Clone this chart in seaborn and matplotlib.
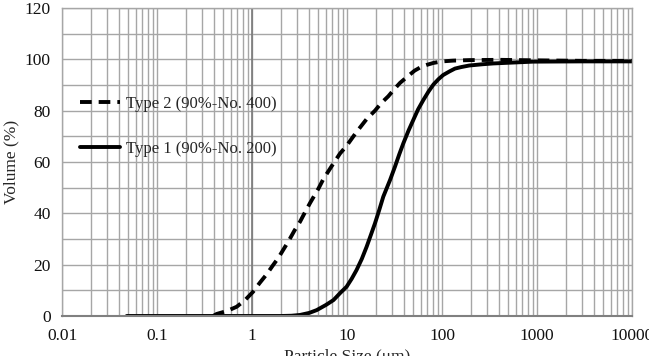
import numpy as np
import pandas as pd
import matplotlib
matplotlib.use("Agg")
import matplotlib.pyplot as plt
import seaborn as sns
from matplotlib.ticker import LogLocator, FixedLocator, NullFormatter

# Data
type2_size = [0.39, 0.425, 0.55, 0.69, 0.85, 1.03, 1.2, 1.43, 1.65, 1.89, 2.15, 2.41,
              2.8, 3.2, 3.6, 4.08, 5.0, 5.63, 6.9, 8.44, 9.9, 12.6, 16, 19.7, 23,
              27.2, 31, 36.1, 43, 51.5, 60, 70, 81.3, 100, 131, 194, 408, 1000,
              3000, 10000]
type2_vol = [0.0, 0.8, 2.0, 3.6, 6.3, 9.5, 12.8, 16.3, 19.6, 22.6, 26.0, 29.0,
             33.3, 36.7, 40.3, 44.0, 49.6, 53.3, 58.4, 63.3, 66.3, 71.7, 76.6, 80.0, 83.0,
             85.6, 88.1, 90.8, 93.2, 95.6, 97.0, 97.9, 98.6, 99.2, 99.5, 99.7, 99.8, 99.6,
             99.4, 99.4]

type1_size = [0.048, 0.5, 1.0, 2.0, 2.6, 3.2, 4.0, 4.8, 6.0, 7.2, 8.5, 9.9, 11.2,
              12.6, 14.3, 16.1, 17.8, 19.7, 21.8, 24.1, 28.4, 32, 35.5, 39.2, 44.5,
              49.9, 56, 63.5, 72, 81.3, 92, 103, 120, 137, 160, 194, 270, 347, 600,
              912, 3000, 10000]
type1_vol = [0.0, 0.0, 0.0, 0.0, 0.1, 0.4, 1.2, 2.3, 4.3, 6.2, 9.0, 11.4, 14.5,
             17.9, 22.2, 27.0, 31.5, 36.1, 41.2, 46.5, 53.0, 58.2, 63.0, 67.3, 72.3,
             76.4, 80.5, 84.1, 87.4, 90.2, 92.3, 93.9, 95.3, 96.4, 97.0, 97.6, 98.1, 98.4, 98.8,
             99.1, 99.2, 99.2]

label2 = "Type 2 (90%-No. 400)"
label1 = "Type 1 (90%-No. 200)"
x_ticks = [0.01, 0.1, 1, 10, 100, 1000, 10000]
x_ticklabels = ["0.01", "0.1", "1", "10", "100", "1000", "10000"]
y_ticks = [0, 20, 40, 60, 80, 100, 120]

sns.set_theme(style="white")
plt.rcParams["font.family"] = ["Liberation Serif", "DejaVu Serif"]

fig = plt.figure(figsize=(6.49, 3.56), dpi=100)
ax = fig.add_axes([62/649, 1 - 316/356, 570/649, 308/356])

df2 = pd.DataFrame({"size": type2_size, "vol": type2_vol})
df1 = pd.DataFrame({"size": type1_size, "vol": type1_vol})

sns.lineplot(data=df2, x="size", y="vol", ax=ax, color="black", lw=2.8,
             linestyle=(0, (3.0, 1.8)), label=label2, solid_joinstyle="round",
             dash_capstyle="butt")
sns.lineplot(data=df1, x="size", y="vol", ax=ax, color="black", lw=2.8,
             label=label1, solid_joinstyle="round", solid_capstyle="round")

ax.set_xscale("log")
ax.set_xlim(0.01, 10000)
ax.set_ylim(0, 120)
ax.xaxis.set_major_locator(FixedLocator(x_ticks))
ax.set_xticklabels(x_ticklabels)
ax.xaxis.set_minor_locator(LogLocator(base=10, subs=np.arange(2, 10)))
ax.xaxis.set_minor_formatter(NullFormatter())
ax.yaxis.set_major_locator(FixedLocator(y_ticks))
ax.yaxis.set_minor_locator(FixedLocator(list(range(10, 120, 20))))

gc = "#a6a6a6"
ax.grid(True, which="both", axis="x", color=gc, lw=1.0)
ax.grid(True, which="both", axis="y", color=gc, lw=1.0)
ax.axvline(1, color="#7a7a7a", lw=1.2, zorder=1)
ax.set_axisbelow(True)
for side in ["top", "right", "left"]:
    ax.spines[side].set_color(gc)
    ax.spines[side].set_linewidth(1.0)
ax.spines["bottom"].set_color("#808080")
ax.spines["bottom"].set_linewidth(1.5)

ax.tick_params(axis="x", which="major", direction="out", length=5, color="#808080",
               width=1.2, labelsize=12.5, pad=4, labelcolor="#111111")
ax.tick_params(axis="x", which="minor", length=0)
ax.tick_params(axis="y", which="both", length=0, labelsize=12.5, pad=8,
               labelcolor="#111111")

ax.set_xlabel("Particle Size (μm)", fontsize=12.5, labelpad=3)
ax.set_ylabel("Volume (%)", fontsize=12.5, labelpad=4)

handles, labels = ax.get_legend_handles_labels()
leg = ax.legend(handles, labels, loc="upper left", bbox_to_anchor=(0.02, 0.737),
                frameon=False, fontsize=12, handlelength=2.4, handletextpad=0.35,
                labelspacing=1.73, borderaxespad=0)

fig.savefig("out.png", dpi=100)
